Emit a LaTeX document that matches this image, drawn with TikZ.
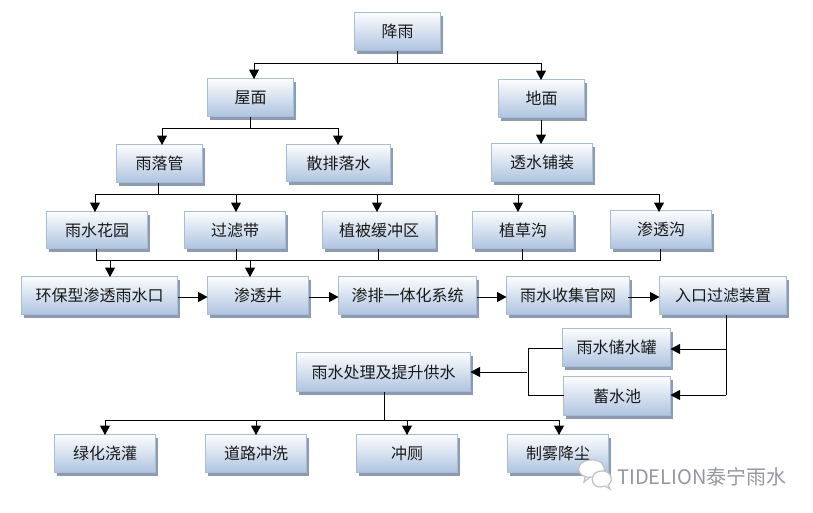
\documentclass[tikz,border=0pt]{standalone}
\usepackage{fontspec}
\setmainfont{Noto Sans CJK SC}
\newfontfamily\wmfont{Noto Sans CJK SC}
\usetikzlibrary{arrows.meta,calc,shadows}
\definecolor{boxedge}{HTML}{A9BDD6}
\definecolor{boxtop}{HTML}{FCFDFE}
\definecolor{boxbot}{HTML}{AFC4E0}
\definecolor{boxshade}{HTML}{8C9BB0}
\definecolor{wmgray}{HTML}{94989D}
\tikzset{
  flowbox/.style={draw=boxedge,line width=1pt,top color=boxtop,bottom color=boxbot,
    inner sep=0pt,outer sep=0pt,font=\fontsize{16pt}{18pt}\selectfont,text=black!90,
    drop shadow={shadow xshift=2pt,shadow yshift=-3pt,fill=boxshade,opacity=1}},
  link/.style={line width=1pt,black},
  arr/.style={link,-{Triangle[width=10pt,length=9.5pt]}},
  wechat/.style={draw=wmgray!60,line width=1.2pt,fill=white}
}
\newcommand{\bx}[6]{%
  \pgfmathsetmacro{\cxv}{(#2+#4)/2-0.5}\pgfmathsetmacro{\cyv}{(#3+#5)/2-0.5}%
  \pgfmathsetmacro{\wv}{#4-#2}\pgfmathsetmacro{\hv}{#5-#3}%
  \node[flowbox,minimum width=\wv pt,minimum height=\hv pt] (#1) at (\cxv,\cyv) {#6};}
\begin{document}
\begin{tikzpicture}[x=1pt,y=-1pt]
\useasboundingbox (0,0) rectangle (813,512);
\fill[white] (0,0) rectangle (813,512);
\bx{rain}{355}{13}{441}{51}{降雨}
\bx{roof}{208}{79}{294}{117}{屋面}
\bx{ground}{499}{80}{585}{118}{地面}
\bx{pipe}{117}{145}{203}{183}{雨落管}
\bx{scatter}{287}{145}{391}{182}{散排落水}
\bx{pave}{492}{144}{593}{182}{透水铺装}
\bx{garden}{47}{212}{148}{249}{雨水花园}
\bx{filter}{185}{212}{286}{249}{过滤带}
\bx{buffer}{323}{212}{436}{249}{植被缓冲区}
\bx{swale}{473}{212}{574}{249}{植草沟}
\bx{trench}{611}{211}{712}{249}{渗透沟}
\bx{inlet}{22}{277}{178}{315}{环保型渗透雨水口}
\bx{well}{208}{277}{309}{315}{渗透井}
\bx{integ}{339}{277}{477}{315}{渗排一体化系统}
\bx{net}{507}{277}{630}{315}{雨水收集官网}
\bx{entry}{660}{277}{787}{315}{入口过滤装置}
\bx{tank}{563}{329}{671}{367}{雨水储水罐}
\bx{pool}{564}{377}{671}{416}{蓄水池}
\bx{treat}{297}{353}{471}{392}{雨水处理及提升供水}
\bx{green}{55}{435}{156}{473}{绿化浇灌}
\bx{road}{206}{435}{307}{473}{道路冲洗}
\bx{wc}{357}{435}{458}{473}{冲厕}
\bx{mist}{508}{435}{609}{473}{制雾降尘}
% junction levels
\coordinate (j1) at (397,63);
\coordinate (j2) at (250,128);
\coordinate (j3) at (158,194);
\coordinate (j5) at (528,372);
\coordinate (j6) at (384,420);
\coordinate (j7) at (726,349);
\coordinate (j8) at (726,395);
% rain
\draw[link] (j1 |- rain.south) -- (j1);
\draw[arr] (j1) -- (254,63) -- (254,79);
\draw[arr] (j1) -- (541,63) -- (541,80);
% roof
\draw[link] (j2 |- roof.south) -- (j2);
\draw[arr] (j2) -- (162,128) -- (162,145);
\draw[arr] (j2) -- (338,128) -- (338,145);
\draw[arr] (541,120) -- (541,144);
% pipe
\draw[link] (j3 |- pipe.south) -- (j3);
\foreach \xx in {95,236,377,518,659}
  \draw[arr] (j3) -- (\xx,194) -- (\xx,212);
% collect
\draw[link] (96,249) -- (96,260) -- (660,260) -- (660,249);
\foreach \xx in {236,378,522} \draw[link] (\xx,249) -- (\xx,260);
\draw[arr] (110,260) -- (110,277);
\draw[arr] (250,260) -- (250,277);
% row
\draw[arr] (inlet.east |- 0,297) -- (well.west |- 0,297);
\draw[arr] (well.east |- 0,297) -- (integ.west |- 0,297);
\draw[arr] (integ.east |- 0,297) -- (net.west |- 0,297);
\draw[arr] (628,297) -- (entry.west |- 0,297);
% storage
\draw[link] (726,315) -- (j8);
\draw[arr] (j7) -- (tank.east |- j7);
\draw[arr] (j8) -- (pool.east |- j8);
\draw[link] (tank.west |- 0,348) -- (528,348) -- (528,395) -- (pool.west |- 0,395);
\draw[arr] (527,372) -- (treat.east |- j5);
% distribution
\draw[link] (j6 |- treat.south) -- (j6);
\foreach \xx in {105,256,407,559}
  \draw[arr] (j6) -- (\xx,420) -- (\xx,435);
% watermark
\draw[wechat] (587,477) .. controls (575,475) and (576,461) .. (590,460) .. controls (601,459) and (606,466) .. (604,472) .. controls (600,479) and (594,478) .. (590,477) -- (584,482) -- (585,477) -- cycle;
\draw[wechat] (600,487) .. controls (590,487) and (589,472) .. (601,471) .. controls (612,470) and (614,482) .. (608,485) -- (610,489) -- (605,486) -- cycle;
\node[inner sep=0pt,anchor=west,text=wmgray,font=\wmfont\fontsize{20pt}{22pt}\selectfont] (mark) at (617,477) {TIDELION泰宁雨水};
\end{tikzpicture}
\end{document}
